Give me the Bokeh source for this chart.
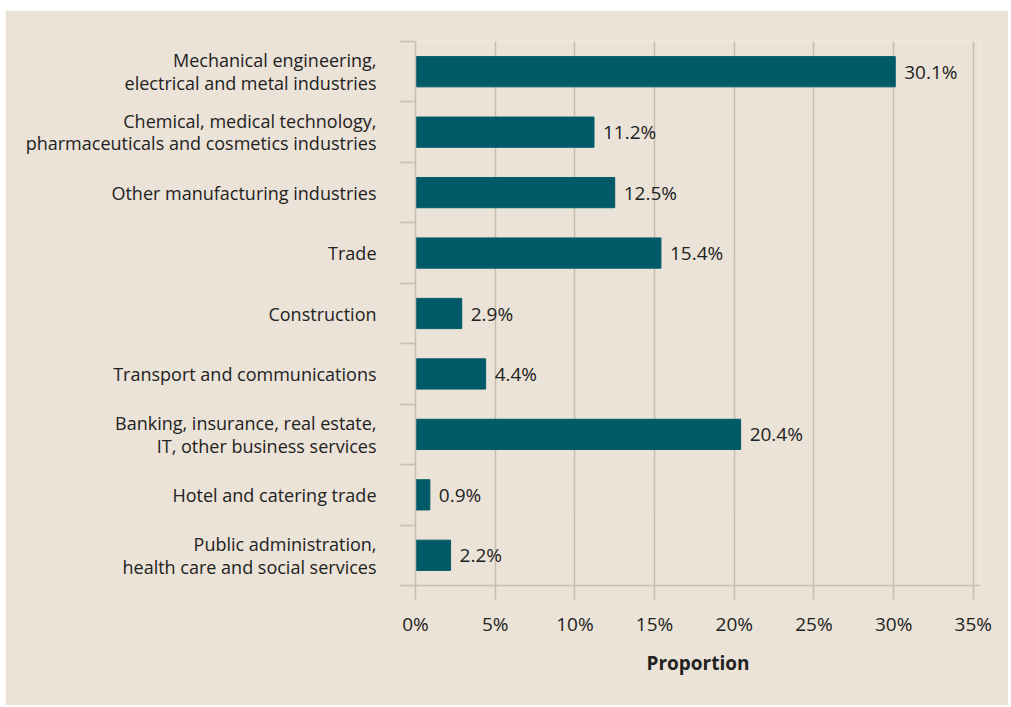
from bokeh.plotting import figure
from bokeh.layouts import column, row
from bokeh.models import Range1d, FixedTicker, PrintfTickFormatter, Spacer
from bokeh.core.properties import value
from bokeh.embed import file_html
from bokeh.resources import INLINE

categories = [
    "Mechanical engineering,\nelectrical and metal industries",
    "Chemical, medical technology,\npharmaceuticals and cosmetics industries",
    "Other manufacturing industries",
    "Trade",
    "Construction",
    "Transport and communications",
    "Banking, insurance, real estate,\nIT, other business services",
    "Hotel and catering trade",
    "Public administration,\nhealth care and social services",
]
values = [30.1, 11.2, 12.5, 15.4, 2.9, 4.4, 20.4, 0.9, 2.2]
x_ticks = [0, 5, 10, 15, 20, 25, 30, 35]
x_label = "Proportion"

BG = "#ebe3d7"
BAR = "#005a67"
GRID = "#c8bdb0"
TEXT = "#222222"
FONT = "Open Sans"

n = len(categories)
centers = [i + 0.5 for i in range(n)]
labels = [f"{v:.1f}%" for v in values]

p = figure(width=1003, height=695,
           x_range=Range1d(0, 35.45), y_range=Range1d(n, 0),
           output_backend="svg", toolbar_location=None,
           min_border_left=410, min_border_right=28,
           min_border_top=31, min_border_bottom=120,
           background_fill_color=BG, border_fill_color=BG,
           outline_line_color=None)

p.hbar(y=centers, left=0, right=values, height=0.5, color=BAR)
p.text(x=values, y=centers, text=labels, x_offset=9,
       text_baseline="middle", text_align="left",
       text_font=value(FONT), text_font_size="19px", text_color=TEXT)

# y axis
ya = p.yaxis[0]
ya.ticker = FixedTicker(ticks=centers, minor_ticks=list(range(n + 1)))
ya.major_label_overrides = {c: lab for c, lab in zip(centers, categories)}
ya.major_tick_out = 0
ya.major_tick_in = 0
ya.minor_tick_out = 15
ya.minor_tick_in = 0
ya.minor_tick_line_color = GRID
ya.minor_tick_line_width = 1.5
ya.axis_line_color = GRID
ya.axis_line_width = 1.5
ya.major_label_standoff = 24
ya.major_label_text_font = FONT
ya.major_label_text_font_size = "18px"
ya.major_label_text_line_height = 0.94
ya.major_label_text_color = TEXT

# x axis
xa = p.xaxis[0]
xa.ticker = FixedTicker(ticks=x_ticks, minor_ticks=[])
xa.formatter = PrintfTickFormatter(format="%d%%")
xa.major_tick_out = 15
xa.major_tick_in = 0
xa.major_tick_line_color = GRID
xa.major_tick_line_width = 1.5
xa.axis_line_color = GRID
xa.axis_line_width = 1.5
xa.major_label_standoff = 10
xa.major_label_text_font = FONT
xa.major_label_text_font_size = "19px"
xa.major_label_text_color = TEXT
xa.axis_label = x_label
xa.axis_label_text_font = FONT
xa.axis_label_text_font_size = "19px"
xa.axis_label_text_font_style = "bold"
xa.axis_label_text_color = TEXT
xa.axis_label_standoff = 10

p.xgrid.ticker = FixedTicker(ticks=x_ticks, minor_ticks=[])
p.xgrid.grid_line_color = GRID
p.xgrid.grid_line_width = 1.5
p.ygrid.visible = False

layout = column(Spacer(height=10), row(Spacer(width=5), p))
open("out.html", "w").write(file_html(layout, INLINE))
